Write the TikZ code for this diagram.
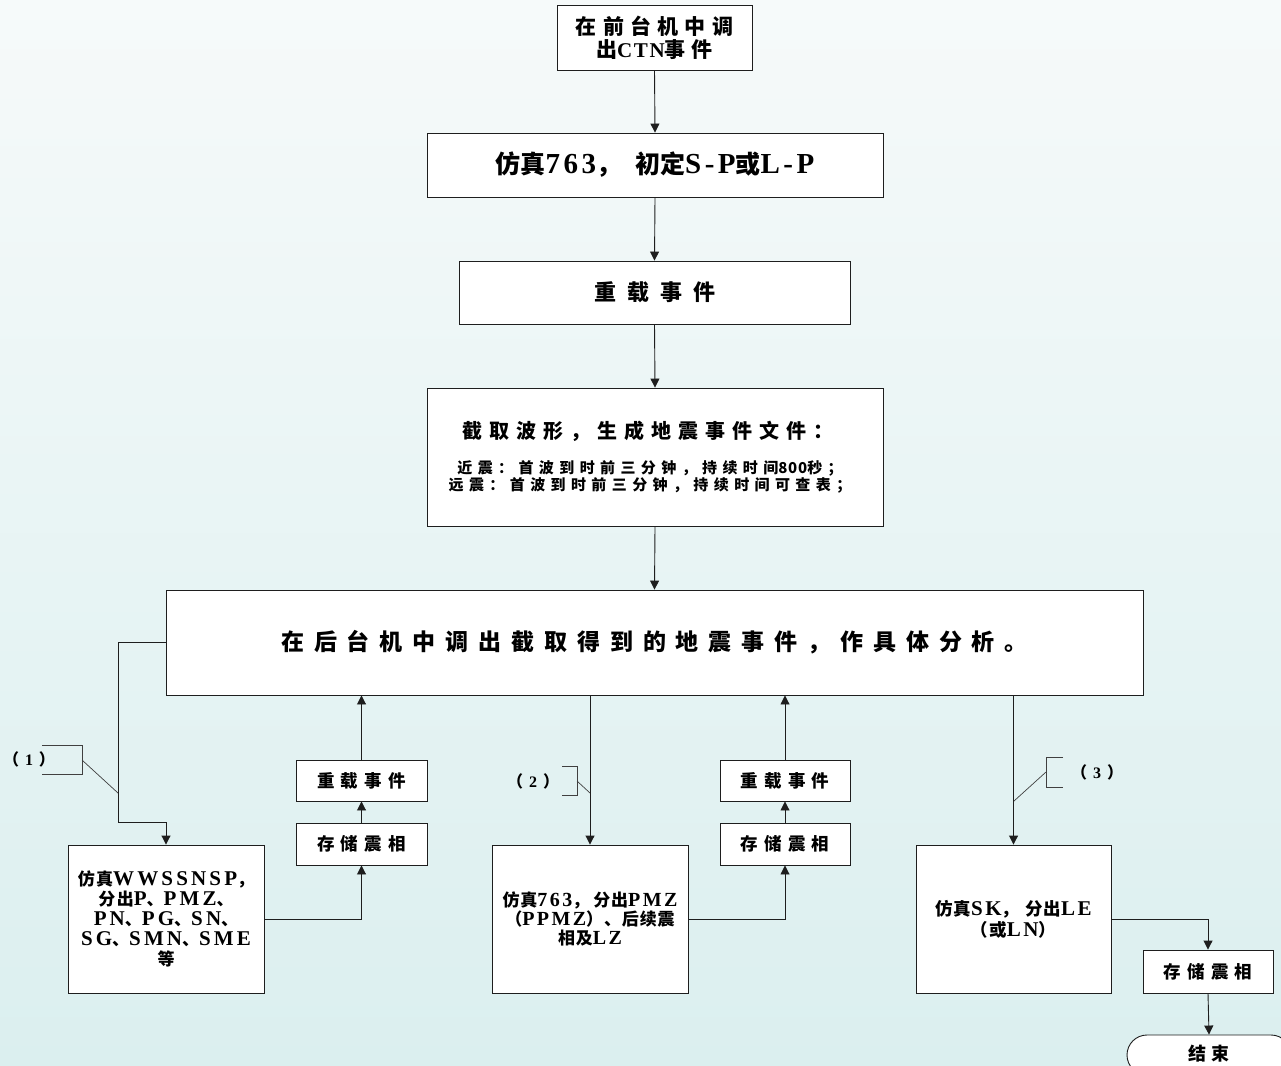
\documentclass[tikz,border=0pt]{standalone}
\usepackage{fontspec}
\setmainfont{Noto Sans CJK SC}
\usetikzlibrary{arrows.meta,shapes.misc}
\definecolor{linec}{RGB}{30,30,30}
\definecolor{bgtop}{RGB}{246,250,250}
\definecolor{bgbot}{RGB}{219,239,239}
\newcommand\curls{0}
\newcommand\latsize{}
\newcommand\tm[1]{{\fontspec{Liberation Serif}[LetterSpace=\curls]\bfseries\latsize #1}}
\newcommand\dg[1]{{\fontspec{Noto Sans CJK SC}[LetterSpace=\curls]\bfseries #1}}
% \ck{cjk size}{baselineskip}{cjk letterspace}{latin letterspace}
\newcommand\ck[4]{\def\curls{#4}\fontspec{Noto Sans CJK SC}[LetterSpace=#3]\bfseries\fontsize{#1}{#2}\selectfont}
% \lt{latin size}
\newcommand\lt[1]{\def\latsize{\fontsize{#1}{#1}\selectfont}}
\tikzset{
  box/.style={draw=linec, fill=white, line width=0.9pt, inner sep=0pt, align=center},
  arr/.style={draw=linec, line width=0.9pt, -{Triangle[length=9pt,width=9pt]}},
  brk/.style={draw=linec!85, line width=0.7pt},
  lab/.style={inner sep=0pt, font=\ck{16}{18}{0}{0}},
  small/.style={box, font=\ck{17.5}{20}{35}{0}},
}
\begin{document}
\begin{tikzpicture}[x=1pt,y=-1pt]
\useasboundingbox (0,0) rectangle (1281,1065);
\clip (0,0) rectangle (1281,1065);
\shade[top color=bgtop, bottom color=bgbot] (0,0) rectangle (1281,1065);

% main column
\node[box, minimum width=195pt, minimum height=65pt, font=\ck{21}{23}{30}{8}] (b1) at (654.5,37.5) {在前台机中调\\出\tm{CTN}事件};
\node[box, minimum width=456pt, minimum height=64pt, font={\ck{25}{27}{0}{12}\lt{29}}] (b2) at (655,165) {仿真\tm{763}，\hspace{14pt}初定\tm{S-P}或\tm{L-P}};
\node[box, minimum width=391pt, minimum height=63pt, font=\ck{22}{26}{50}{0}] (b3) at (654.5,292.5) {重载事件};
\node[box, minimum width=456pt, minimum height=138pt] (b4) at (655,457) {};
\node[inner sep=0pt, font=\ck{20}{24}{35}{0}] (b4t) at (648,431) {截取波形，生成地震事件文件：};
\node[font=\ck{15}{17}{36}{5}, align=center, inner sep=0pt] (b4s) at (650,477) {近震：首波到时前三分钟，持续时间\dg{800}秒；\\远震：首波到时前三分钟，持续时间可查表；};
\node[box, minimum width=977pt, minimum height=105pt, font=\ck{23}{26}{43}{0}] (b5) at (654.5,642.5) {在后台机中调出截取得到的地震事件，作具体分析。};

% bottom boxes
\node[box, minimum width=196pt, minimum height=148pt, font={\ck{17}{20}{8}{15}\lt{21}}] (l1) at (166,919) {仿真\tm{WWSSNSP}，\\分出\tm{P}、\tm{PMZ}、\\\tm{PN}、\tm{PG}、\tm{SN}、\\\tm{SG}、\tm{SMN}、\tm{SME}\\等};
\node[small, minimum width=131pt, minimum height=41pt] (lr) at (361.5,780.5) {重载事件};
\node[small, minimum width=131pt, minimum height=42pt] (ls) at (361.5,844) {存储震相};

\node[box, minimum width=196pt, minimum height=148pt, font={\ck{17}{19}{5}{12}\lt{20}}] (m1) at (590,919) {仿真\tm{763}，\hspace{4pt}分出\tm{PMZ}\\（\tm{PPMZ}）、后续震\\相及\tm{LZ}};
\node[small, minimum width=130pt, minimum height=41pt] (mr) at (785,780.5) {重载事件};
\node[small, minimum width=130pt, minimum height=42pt] (ms) at (785,844) {存储震相};

\node[box, minimum width=195pt, minimum height=148pt, font={\ck{17.5}{21}{5}{12}\lt{21}}] (r1) at (1013.5,919) {仿真\tm{SK}，\hspace{6pt}分出\tm{LE}\\（或\tm{LN}）};
\node[small, minimum width=130pt, minimum height=43pt] (rs) at (1208,971.5) {存储震相};
\node[draw=linec, fill=white, line width=0.9pt, rounded rectangle, minimum width=164pt, minimum height=40pt, inner sep=0pt, font=\ck{18}{20}{30}{0}] (end) at (1209,1055) {\raisebox{4pt}{结束}};

% labels
\node[lab] (lab1) at (29,759) {（\hspace{6pt}\tm{1}\hspace{6pt}）};
\node[lab] (lab2) at (533,781) {（\hspace{6pt}\tm{2}\hspace{6pt}）};
\node[lab] (lab3) at (1097,772) {（\hspace{6pt}\tm{3}\hspace{6pt}）};

% connectors main column
\draw[arr] (b1.south) -- (b2.north);
\draw[arr] (b2.south) -- (b3.north);
\draw[arr] (b3.south) -- (b4.north);
\draw[arr] (b4.south) -- (b5.north);

% branch 1
\coordinate (k1) at (118,822);
\draw[arr] (b5.west) -| (k1) -| (l1.north);
\draw[arr] (l1.east) -| (ls.south);
\draw[arr] (ls.north) -- (lr.south);
\draw[arr] (lr.north) -- (lr.north |- b5.south);

% branch 2
\draw[arr] (m1.north |- b5.south) -- (m1.north);
\draw[arr] (m1.east) -| (ms.south);
\draw[arr] (ms.north) -- (mr.south);
\draw[arr] (mr.north) -- (mr.north |- b5.south);

% branch 3
\draw[arr] (r1.north |- b5.south) -- (r1.north);
\draw[arr] (r1.east) -| (rs.north);
\draw[arr] (rs.south) -- (end.north);

% brackets
\draw[brk] (42,745) -- (82,745) -- (82,774) -- (42,774);
\draw[brk] (82,760) -- (118,793);
\draw[brk] (562,766) -- (577,766) -- (577,795) -- (562,795);
\draw[brk] (577,781) -- (590,793);
\draw[brk] (1063,757) -- (1046,757) -- (1046,787) -- (1063,787);
\draw[brk] (1046,772) -- (1014,801);
\end{tikzpicture}
\end{document}
